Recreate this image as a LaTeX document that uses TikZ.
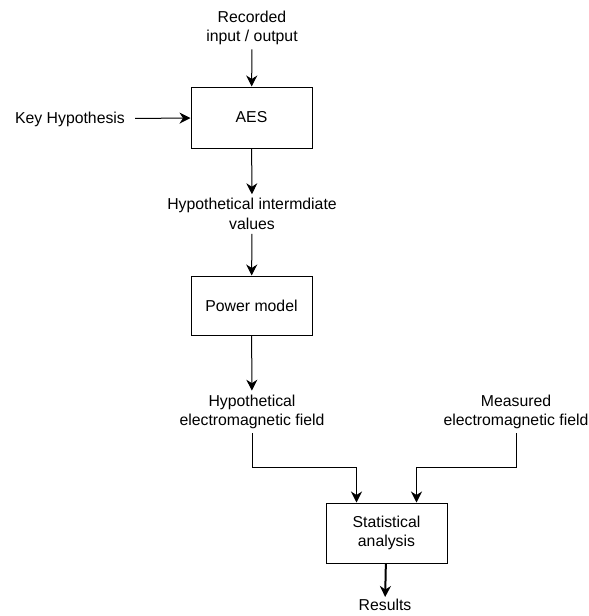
\documentclass[tikz,border=0pt]{standalone}
\usepackage{fontspec}
\setmainfont{Liberation Sans}
\usetikzlibrary{arrows.meta}

\begin{document}
\begin{tikzpicture}[x=1pt, y=-1pt,
    block/.style={draw, line width=1pt, minimum width=121pt, inner sep=0pt},
    label/.style={align=center, inner sep=4pt, font=\fontsize{15.8}{19.5}\selectfont},
    flow/.style={line width=1pt, -{Stealth[length=11pt, width=11pt, inset=3.5pt]}},
    every node/.append style={font=\fontsize{15.8}{19.5}\selectfont}
]
    \useasboundingbox (0,0) rectangle (589,616);

    \node[block, minimum height=61pt] (aes) at (251.5,117.5) {AES};
    \node[block, minimum height=59pt] (power) at (251.5,305.5) {Power model};
    \node[block, minimum height=60pt, align=center] (stat) at (386.5,533) {Statistical\\analysis};

    \node[label] (rec) at (252,28) {Recorded\\input / output};
    \node[label] (key) at (70,119) {Key Hypothesis};
    \node[label] (vals) at (252,214) {Hypothetical intermdiate\\values};
    \node[label] (hypf) at (252,412) {Hypothetical\\electromagnetic field};
    \node[label] (meas) at (516,412) {Measured\\electromagnetic field};
    \node[label, inner sep=2pt] (res) at (385,605) {Results};

    \draw[flow] (rec) -- (aes);
    \draw[flow, shorten <=6pt] (key) -- (aes);
    \draw[flow] (aes) -- (vals);
    \draw[flow] (vals) -- (power);
    \draw[flow] (power) -- (hypf);

    \draw[flow] (hypf.south) -- ++(0,34) -| ([xshift=-30pt]stat.north);
    \draw[flow] (meas.south) -- ++(0,34) -| ([xshift=30pt]stat.north);

    \draw[flow, line width=2pt] (stat) -- (res);

\end{tikzpicture}
\end{document}
